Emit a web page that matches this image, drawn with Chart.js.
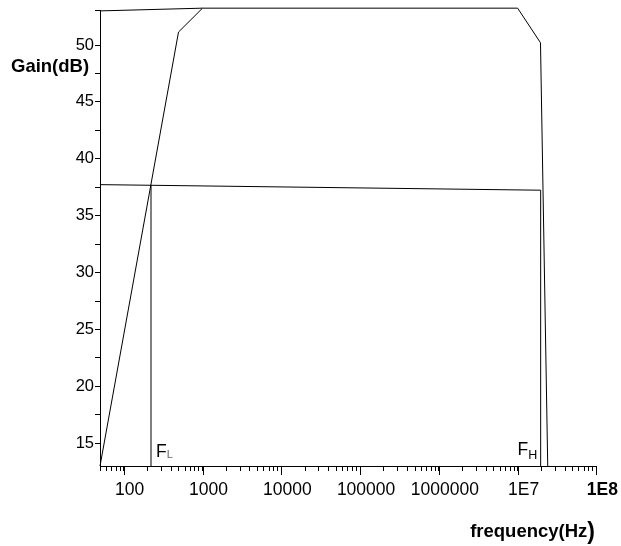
<!DOCTYPE html>
<html>
<head>
<meta charset="utf-8">
<script src="https://cdn.jsdelivr.net/npm/chart.js@4.4.0/dist/chart.umd.min.js"></script>
<style>
  body { margin: 0; background: #fff; }
  #wrap { width: 621px; height: 546px; }
</style>
</head>
<body>
<div id="wrap"><canvas id="gainChart" width="621" height="546"></canvas></div>
<script>
// amplifier response: frequency (Hz) vs gain (dB)
var gainFreq = [50, 496, 1000, 1e7, 1.95e7, 2.41e7];
var gainDb = [13, 51.14, 53.24, 53.24, 50.2, 13];
// max gain reference
var maxFreq = [50, 1000];
var maxDb = [53, 53.24];
// -3 dB level
var cutFreq = [50, 1.96e7];
var cutDb = [37.73, 37.24];
// corner frequencies
var fLowFreq = [222, 222];
var fLowDb = [13, 37.7];
var fHighFreq = [1.96e7, 1.96e7];
var fHighDb = [13, 37.24];

var xMajorTicks = [100, 1000, 10000, 100000, 1000000, 1e7, 1e8];
var xTickLabels = ['100', '1000', '10000', '100000', '1000000', '1E7', '1E8'];
var yTickLabels = [15, 20, 25, 30, 35, 40, 45, 50];
var xMin = 50, xMax = 1e8;
var yMin = 13, yMax = 53;

var FONT = '"Liberation Sans", Arial, sans-serif';

function toPoints(xs, ys) {
    var pts = [];
    for (var i = 0; i < xs.length; i++) pts.push({ x: xs[i], y: ys[i] });
    return pts;
}

function lineSet(xs, ys) {
    return {
        data: toPoints(xs, ys),
        borderColor: '#000',
        borderWidth: 1,
        pointRadius: 0,
        tension: 0,
        fill: false,
        clip: false
    };
}

// longer ticks at decades, axis titles, F_L / F_H marks
var extras = {
    id: 'extras',
    afterDraw: function (chart) {
        var ctx = chart.ctx;
        var xs = chart.scales.x, ys = chart.scales.y;
        var bottom = chart.chartArea.bottom;
        ctx.save();
        ctx.strokeStyle = '#000';
        ctx.lineWidth = 1;
        xMajorTicks.forEach(function (v) {
            var px = Math.round(xs.getPixelForValue(v)) + 0.5;
            ctx.beginPath();
            ctx.moveTo(px, bottom);
            ctx.lineTo(px, bottom + 9);
            ctx.stroke();
        });

        ctx.fillStyle = '#000';
        ctx.textBaseline = 'alphabetic';
        ctx.textAlign = 'left';
        ctx.font = 'bold 18.5px ' + FONT;
        ctx.fillText('Gain(dB)', 11, 72);

        // x title, closing bracket drawn larger
        var t = 'frequency(Hz';
        ctx.font = 'bold 23px ' + FONT;
        var pw = ctx.measureText(')').width;
        ctx.font = 'bold 18.5px ' + FONT;
        var w = ctx.measureText(t).width;
        var tx = 595 - pw - w;
        ctx.fillText(t, tx, 537);
        ctx.font = 'bold 23px ' + FONT;
        ctx.fillText(')', tx + w, 539);

        // F_L
        var base = ys.getPixelForValue(yMin) - 9.5;
        var lx = xs.getPixelForValue(fLowFreq[0]) + 5;
        ctx.font = '17.5px ' + FONT;
        ctx.fillText('F', lx, base);
        var fw = ctx.measureText('F').width;
        ctx.fillStyle = '#666';
        ctx.font = '11px ' + FONT;
        ctx.fillText('L', lx + fw, base + 1);

        // F_H
        ctx.fillStyle = '#000';
        ctx.font = '12.5px ' + FONT;
        var hw = ctx.measureText('H').width;
        var hx = xs.getPixelForValue(fHighFreq[0]) - 3.5 - hw;
        ctx.fillText('H', hx, base + 2);
        ctx.font = '17.5px ' + FONT;
        ctx.fillText('F', hx - fw, base - 1.5);
        ctx.restore();
    }
};

new Chart(document.getElementById('gainChart'), {
    type: 'line',
    data: {
        datasets: [
            lineSet(gainFreq, gainDb),
            lineSet(maxFreq, maxDb),
            lineSet(cutFreq, cutDb),
            lineSet(fLowFreq, fLowDb),
            lineSet(fHighFreq, fHighDb)
        ]
    },
    options: {
        responsive: false,
        animation: false,
        layout: { padding: { left: 0, top: 10, right: 24, bottom: 0 } },
        plugins: { legend: { display: false }, tooltip: { enabled: false } },
        scales: {
            x: {
                type: 'logarithmic',
                min: xMin,
                max: xMax,
                afterFit: function (s) { s.height = 80; },
                afterBuildTicks: function (s) {
                    var ticks = [];
                    for (var d = 10; d < xMax; d *= 10) {
                        for (var m = 1; m <= 9; m++) {
                            var v = m * d;
                            if (v >= xMin && v <= xMax) ticks.push({ value: v });
                        }
                    }
                    ticks.push({ value: xMax });
                    s.ticks = ticks;
                },
                grid: { drawOnChartArea: false, tickLength: 5, color: '#000' },
                border: { color: '#000', width: 1 },
                ticks: {
                    autoSkip: false,
                    maxRotation: 0,
                    padding: 9,
                    labelOffset: 6,
                    color: '#000',
                    font: function (c) {
                        return { family: FONT, size: 17.5, weight: c.tick && c.tick.value === 1e8 ? 'bold' : 'normal' };
                    },
                    callback: function (v) {
                        var i = xMajorTicks.indexOf(v);
                        return i < 0 ? '' : xTickLabels[i];
                    }
                }
            },
            y: {
                type: 'linear',
                min: yMin,
                max: yMax,
                afterFit: function (s) { s.width = 100; },
                afterBuildTicks: function (s) {
                    var ticks = [];
                    for (var v = 15; v <= 50; v += 2.5) ticks.push({ value: v });
                    ticks.push({ value: yMax });
                    s.ticks = ticks;
                },
                grid: { drawOnChartArea: false, tickLength: 5, color: '#000' },
                border: { color: '#000', width: 1 },
                ticks: {
                    autoSkip: false,
                    padding: 1,
                    color: '#000',
                    font: { family: FONT, size: 16.5 },
                    callback: function (v) {
                        return yTickLabels.indexOf(v) < 0 ? '' : String(v);
                    }
                }
            }
        }
    },
    plugins: [extras]
});
</script>
</body>
</html>
